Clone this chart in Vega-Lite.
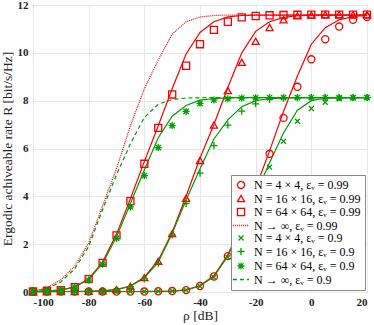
{
"$schema": "https://vega.github.io/schema/vega-lite/v6.json",
"width": 334, "height": 287,
"autosize": {"type": "none"},
"padding": {"left": 33, "top": 5, "right": 7, "bottom": 33},
"config": {"view": {"stroke": "#555", "strokeWidth": 1}, "font": "Liberation Serif"},
"datasets": {
"pts": [
{"x":-100,"y":0.02,"s":"A"},{"x":-95,"y":0.02,"s":"A"},{"x":-90,"y":0.02,"s":"A"},{"x":-85,"y":0.02,"s":"A"},{"x":-80,"y":0.02,"s":"A"},{"x":-75,"y":0.02,"s":"A"},{"x":-70,"y":0.02,"s":"A"},{"x":-65,"y":0.02,"s":"A"},{"x":-60,"y":0.02,"s":"A"},{"x":-55,"y":0.03,"s":"A"},{"x":-50,"y":0.04,"s":"A"},{"x":-45,"y":0.08,"s":"A"},{"x":-40,"y":0.25,"s":"A"},{"x":-35,"y":0.65,"s":"A"},{"x":-30,"y":1.5,"s":"A"},{"x":-25,"y":2.75,"s":"A"},{"x":-20,"y":4.25,"s":"A"},{"x":-15,"y":5.78,"s":"A"},{"x":-10,"y":7.28,"s":"A"},{"x":-5,"y":8.58,"s":"A"},{"x":0,"y":9.73,"s":"A"},{"x":5,"y":10.57,"s":"A"},{"x":10,"y":11.1,"s":"A"},{"x":15,"y":11.38,"s":"A"},{"x":20,"y":11.5,"s":"A"},
{"x":-100,"y":0.01,"s":"B"},{"x":-95,"y":0.01,"s":"B"},{"x":-90,"y":0.02,"s":"B"},{"x":-85,"y":0.02,"s":"B"},{"x":-80,"y":0.03,"s":"B"},{"x":-75,"y":0.05,"s":"B"},{"x":-70,"y":0.1,"s":"B"},{"x":-65,"y":0.24,"s":"B"},{"x":-60,"y":0.6,"s":"B"},{"x":-55,"y":1.28,"s":"B"},{"x":-50,"y":2.44,"s":"B"},{"x":-45,"y":3.92,"s":"B"},{"x":-40,"y":5.5,"s":"B"},{"x":-35,"y":6.98,"s":"B"},{"x":-30,"y":8.42,"s":"B"},{"x":-25,"y":9.6,"s":"B"},{"x":-20,"y":10.48,"s":"B"},{"x":-15,"y":11.06,"s":"B"},{"x":-10,"y":11.38,"s":"B"},{"x":-5,"y":11.55,"s":"B"},{"x":0,"y":11.58,"s":"B"},{"x":5,"y":11.6,"s":"B"},{"x":10,"y":11.6,"s":"B"},{"x":15,"y":11.6,"s":"B"},{"x":20,"y":11.6,"s":"B"},
{"x":-100,"y":0.02,"s":"C"},{"x":-95,"y":0.05,"s":"C"},{"x":-90,"y":0.08,"s":"C"},{"x":-85,"y":0.2,"s":"C"},{"x":-80,"y":0.54,"s":"C"},{"x":-75,"y":1.22,"s":"C"},{"x":-70,"y":2.37,"s":"C"},{"x":-65,"y":3.8,"s":"C"},{"x":-60,"y":5.36,"s":"C"},{"x":-55,"y":6.86,"s":"C"},{"x":-50,"y":8.26,"s":"C"},{"x":-45,"y":9.46,"s":"C"},{"x":-40,"y":10.36,"s":"C"},{"x":-35,"y":10.96,"s":"C"},{"x":-30,"y":11.3,"s":"C"},{"x":-25,"y":11.48,"s":"C"},{"x":-20,"y":11.54,"s":"C"},{"x":-15,"y":11.57,"s":"C"},{"x":-10,"y":11.58,"s":"C"},{"x":-5,"y":11.59,"s":"C"},{"x":0,"y":11.6,"s":"C"},{"x":5,"y":11.6,"s":"C"},{"x":10,"y":11.6,"s":"C"},{"x":15,"y":11.6,"s":"C"},{"x":20,"y":11.6,"s":"C"},
{"x":-100,"y":0.02,"s":"E"},{"x":-95,"y":0.02,"s":"E"},{"x":-90,"y":0.02,"s":"E"},{"x":-85,"y":0.02,"s":"E"},{"x":-80,"y":0.02,"s":"E"},{"x":-75,"y":0.02,"s":"E"},{"x":-70,"y":0.02,"s":"E"},{"x":-65,"y":0.02,"s":"E"},{"x":-60,"y":0.02,"s":"E"},{"x":-55,"y":0.03,"s":"E"},{"x":-50,"y":0.04,"s":"E"},{"x":-45,"y":0.08,"s":"E"},{"x":-40,"y":0.24,"s":"E"},{"x":-35,"y":0.62,"s":"E"},{"x":-30,"y":1.45,"s":"E"},{"x":-25,"y":2.6,"s":"E"},{"x":-20,"y":3.9,"s":"E"},{"x":-15,"y":5.22,"s":"E"},{"x":-10,"y":6.3,"s":"E"},{"x":-5,"y":7.14,"s":"E"},{"x":0,"y":7.67,"s":"E"},{"x":5,"y":7.93,"s":"E"},{"x":10,"y":8.08,"s":"E"},{"x":15,"y":8.12,"s":"E"},{"x":20,"y":8.13,"s":"E"},
{"x":-100,"y":0.01,"s":"F"},{"x":-95,"y":0.01,"s":"F"},{"x":-90,"y":0.02,"s":"F"},{"x":-85,"y":0.02,"s":"F"},{"x":-80,"y":0.03,"s":"F"},{"x":-75,"y":0.05,"s":"F"},{"x":-70,"y":0.09,"s":"F"},{"x":-65,"y":0.22,"s":"F"},{"x":-60,"y":0.55,"s":"F"},{"x":-55,"y":1.2,"s":"F"},{"x":-50,"y":2.38,"s":"F"},{"x":-45,"y":3.7,"s":"F"},{"x":-40,"y":4.97,"s":"F"},{"x":-35,"y":6.12,"s":"F"},{"x":-30,"y":6.98,"s":"F"},{"x":-25,"y":7.56,"s":"F"},{"x":-20,"y":7.87,"s":"F"},{"x":-15,"y":8.05,"s":"F"},{"x":-10,"y":8.1,"s":"F"},{"x":-5,"y":8.12,"s":"F"},{"x":0,"y":8.13,"s":"F"},{"x":5,"y":8.13,"s":"F"},{"x":10,"y":8.13,"s":"F"},{"x":15,"y":8.13,"s":"F"},{"x":20,"y":8.13,"s":"F"},
{"x":-100,"y":0.02,"s":"G"},{"x":-95,"y":0.05,"s":"G"},{"x":-90,"y":0.08,"s":"G"},{"x":-85,"y":0.2,"s":"G"},{"x":-80,"y":0.5,"s":"G"},{"x":-75,"y":1.16,"s":"G"},{"x":-70,"y":2.24,"s":"G"},{"x":-65,"y":3.56,"s":"G"},{"x":-60,"y":4.87,"s":"G"},{"x":-55,"y":6.04,"s":"G"},{"x":-50,"y":6.96,"s":"G"},{"x":-45,"y":7.55,"s":"G"},{"x":-40,"y":7.89,"s":"G"},{"x":-35,"y":8.03,"s":"G"},{"x":-30,"y":8.08,"s":"G"},{"x":-25,"y":8.11,"s":"G"},{"x":-20,"y":8.12,"s":"G"},{"x":-15,"y":8.13,"s":"G"},{"x":-10,"y":8.13,"s":"G"},{"x":-5,"y":8.13,"s":"G"},{"x":0,"y":8.13,"s":"G"},{"x":5,"y":8.13,"s":"G"},{"x":10,"y":8.13,"s":"G"},{"x":15,"y":8.13,"s":"G"},{"x":20,"y":8.13,"s":"G"}
],
"crv": [
{"x":-100,"y":0.02,"s":"A"},{"x":-95,"y":0.02,"s":"A"},{"x":-90,"y":0.02,"s":"A"},{"x":-85,"y":0.02,"s":"A"},{"x":-80,"y":0.02,"s":"A"},{"x":-75,"y":0.02,"s":"A"},{"x":-70,"y":0.02,"s":"A"},{"x":-65,"y":0.02,"s":"A"},{"x":-60,"y":0.02,"s":"A"},{"x":-55,"y":0.03,"s":"A"},{"x":-50,"y":0.04,"s":"A"},{"x":-45,"y":0.09,"s":"A"},{"x":-40,"y":0.27,"s":"A"},{"x":-35,"y":0.68,"s":"A"},{"x":-30,"y":1.55,"s":"A"},{"x":-25,"y":2.85,"s":"A"},{"x":-20,"y":4.35,"s":"A"},{"x":-15,"y":5.9,"s":"A"},{"x":-10,"y":7.55,"s":"A"},{"x":-5,"y":9.03,"s":"A"},{"x":0,"y":10.36,"s":"A"},{"x":5,"y":11.05,"s":"A"},{"x":10,"y":11.38,"s":"A"},{"x":15,"y":11.52,"s":"A"},{"x":20,"y":11.57,"s":"A"},
{"x":-100,"y":0.01,"s":"B"},{"x":-95,"y":0.01,"s":"B"},{"x":-90,"y":0.02,"s":"B"},{"x":-85,"y":0.02,"s":"B"},{"x":-80,"y":0.03,"s":"B"},{"x":-75,"y":0.05,"s":"B"},{"x":-70,"y":0.1,"s":"B"},{"x":-65,"y":0.25,"s":"B"},{"x":-60,"y":0.62,"s":"B"},{"x":-55,"y":1.32,"s":"B"},{"x":-50,"y":2.5,"s":"B"},{"x":-45,"y":4.0,"s":"B"},{"x":-40,"y":5.6,"s":"B"},{"x":-35,"y":7.0,"s":"B"},{"x":-30,"y":8.55,"s":"B"},{"x":-25,"y":10.0,"s":"B"},{"x":-20,"y":10.9,"s":"B"},{"x":-15,"y":11.3,"s":"B"},{"x":-10,"y":11.48,"s":"B"},{"x":-5,"y":11.55,"s":"B"},{"x":0,"y":11.58,"s":"B"},{"x":5,"y":11.58,"s":"B"},{"x":10,"y":11.58,"s":"B"},{"x":15,"y":11.58,"s":"B"},{"x":20,"y":11.58,"s":"B"},
{"x":-100,"y":0.02,"s":"C"},{"x":-95,"y":0.05,"s":"C"},{"x":-90,"y":0.08,"s":"C"},{"x":-85,"y":0.22,"s":"C"},{"x":-80,"y":0.55,"s":"C"},{"x":-75,"y":1.25,"s":"C"},{"x":-70,"y":2.42,"s":"C"},{"x":-65,"y":3.9,"s":"C"},{"x":-60,"y":5.45,"s":"C"},{"x":-55,"y":6.95,"s":"C"},{"x":-50,"y":8.5,"s":"C"},{"x":-45,"y":9.95,"s":"C"},{"x":-40,"y":10.85,"s":"C"},{"x":-35,"y":11.3,"s":"C"},{"x":-30,"y":11.5,"s":"C"},{"x":-25,"y":11.56,"s":"C"},{"x":-20,"y":11.58,"s":"C"},{"x":-15,"y":11.58,"s":"C"},{"x":-10,"y":11.58,"s":"C"},{"x":-5,"y":11.58,"s":"C"},{"x":0,"y":11.58,"s":"C"},{"x":5,"y":11.58,"s":"C"},{"x":10,"y":11.58,"s":"C"},{"x":15,"y":11.58,"s":"C"},{"x":20,"y":11.58,"s":"C"},
{"x":-100,"y":0.02,"s":"E"},{"x":-95,"y":0.02,"s":"E"},{"x":-90,"y":0.02,"s":"E"},{"x":-85,"y":0.02,"s":"E"},{"x":-80,"y":0.02,"s":"E"},{"x":-75,"y":0.02,"s":"E"},{"x":-70,"y":0.02,"s":"E"},{"x":-65,"y":0.02,"s":"E"},{"x":-60,"y":0.02,"s":"E"},{"x":-55,"y":0.03,"s":"E"},{"x":-50,"y":0.04,"s":"E"},{"x":-45,"y":0.08,"s":"E"},{"x":-40,"y":0.25,"s":"E"},{"x":-35,"y":0.65,"s":"E"},{"x":-30,"y":1.5,"s":"E"},{"x":-25,"y":2.75,"s":"E"},{"x":-20,"y":4.1,"s":"E"},{"x":-15,"y":5.4,"s":"E"},{"x":-10,"y":6.65,"s":"E"},{"x":-5,"y":7.6,"s":"E"},{"x":0,"y":8.0,"s":"E"},{"x":5,"y":8.1,"s":"E"},{"x":10,"y":8.12,"s":"E"},{"x":15,"y":8.13,"s":"E"},{"x":20,"y":8.13,"s":"E"},
{"x":-100,"y":0.01,"s":"F"},{"x":-95,"y":0.01,"s":"F"},{"x":-90,"y":0.02,"s":"F"},{"x":-85,"y":0.02,"s":"F"},{"x":-80,"y":0.03,"s":"F"},{"x":-75,"y":0.05,"s":"F"},{"x":-70,"y":0.1,"s":"F"},{"x":-65,"y":0.24,"s":"F"},{"x":-60,"y":0.58,"s":"F"},{"x":-55,"y":1.25,"s":"F"},{"x":-50,"y":2.45,"s":"F"},{"x":-45,"y":3.85,"s":"F"},{"x":-40,"y":5.15,"s":"F"},{"x":-35,"y":6.4,"s":"F"},{"x":-30,"y":7.2,"s":"F"},{"x":-25,"y":7.75,"s":"F"},{"x":-20,"y":8.0,"s":"F"},{"x":-15,"y":8.08,"s":"F"},{"x":-10,"y":8.12,"s":"F"},{"x":-5,"y":8.13,"s":"F"},{"x":0,"y":8.13,"s":"F"},{"x":5,"y":8.13,"s":"F"},{"x":10,"y":8.13,"s":"F"},{"x":15,"y":8.13,"s":"F"},{"x":20,"y":8.13,"s":"F"},
{"x":-100,"y":0.02,"s":"G"},{"x":-95,"y":0.05,"s":"G"},{"x":-90,"y":0.08,"s":"G"},{"x":-85,"y":0.21,"s":"G"},{"x":-80,"y":0.52,"s":"G"},{"x":-75,"y":1.2,"s":"G"},{"x":-70,"y":2.3,"s":"G"},{"x":-65,"y":3.7,"s":"G"},{"x":-60,"y":5.1,"s":"G"},{"x":-55,"y":6.45,"s":"G"},{"x":-50,"y":7.35,"s":"G"},{"x":-45,"y":7.8,"s":"G"},{"x":-40,"y":8.02,"s":"G"},{"x":-35,"y":8.09,"s":"G"},{"x":-30,"y":8.12,"s":"G"},{"x":-25,"y":8.13,"s":"G"},{"x":-20,"y":8.13,"s":"G"},{"x":-15,"y":8.13,"s":"G"},{"x":-10,"y":8.13,"s":"G"},{"x":-5,"y":8.13,"s":"G"},{"x":0,"y":8.13,"s":"G"},{"x":5,"y":8.13,"s":"G"},{"x":10,"y":8.13,"s":"G"},{"x":15,"y":8.13,"s":"G"},{"x":20,"y":8.13,"s":"G"}
],
"inf": [
{"x":-100,"y":0.03,"s":"D"},{"x":-95,"y":0.18,"s":"D"},{"x":-90,"y":0.5,"s":"D"},{"x":-85,"y":1.08,"s":"D"},{"x":-80,"y":2.05,"s":"D"},{"x":-75,"y":3.6,"s":"D"},{"x":-70,"y":5.15,"s":"D"},{"x":-65,"y":6.95,"s":"D"},{"x":-60,"y":8.5,"s":"D"},{"x":-55,"y":9.7,"s":"D"},{"x":-50,"y":10.78,"s":"D"},{"x":-45,"y":11.3,"s":"D"},{"x":-40,"y":11.5,"s":"D"},{"x":-35,"y":11.56,"s":"D"},{"x":-30,"y":11.58,"s":"D"},{"x":-25,"y":11.58,"s":"D"},{"x":-20,"y":11.58,"s":"D"},{"x":-15,"y":11.58,"s":"D"},{"x":-10,"y":11.58,"s":"D"},{"x":-5,"y":11.58,"s":"D"},{"x":0,"y":11.58,"s":"D"},{"x":5,"y":11.58,"s":"D"},{"x":10,"y":11.58,"s":"D"},{"x":15,"y":11.58,"s":"D"},{"x":20,"y":11.58,"s":"D"},
{"x":-100,"y":0.02,"s":"H"},{"x":-95,"y":0.14,"s":"H"},{"x":-90,"y":0.42,"s":"H"},{"x":-85,"y":0.97,"s":"H"},{"x":-80,"y":1.9,"s":"H"},{"x":-75,"y":3.45,"s":"H"},{"x":-70,"y":4.9,"s":"H"},{"x":-65,"y":6.2,"s":"H"},{"x":-60,"y":7.3,"s":"H"},{"x":-55,"y":7.85,"s":"H"},{"x":-50,"y":8.05,"s":"H"},{"x":-45,"y":8.11,"s":"H"},{"x":-40,"y":8.12,"s":"H"},{"x":-35,"y":8.13,"s":"H"},{"x":-30,"y":8.13,"s":"H"},{"x":-25,"y":8.13,"s":"H"},{"x":-20,"y":8.13,"s":"H"},{"x":-15,"y":8.13,"s":"H"},{"x":-10,"y":8.13,"s":"H"},{"x":-5,"y":8.13,"s":"H"},{"x":0,"y":8.13,"s":"H"},{"x":5,"y":8.13,"s":"H"},{"x":10,"y":8.13,"s":"H"},{"x":15,"y":8.13,"s":"H"},{"x":20,"y":8.13,"s":"H"}
]
},
"encoding": {
"x": {"field": "x", "type": "quantitative", "scale": {"domain": [-100, 20], "nice": false, "zero": false},
 "axis": {"title": "ρ [dB]", "values": [-100, -80, -60, -40, -20, 0, 20], "labelExpr": "'' + datum.value", "labelFont": "Liberation Serif", "labelFontWeight": "bold", "labelFontSize": 11, "labelColor": "#222", "labelPadding": 4, "titleFont": "Liberation Serif", "titleFontWeight": "normal", "titleFontSize": 13.5, "titleColor": "#222", "titlePadding": 1, "grid": true, "gridColor": "#e8e8e8", "domain": false, "ticks": false}},
"y": {"field": "y", "type": "quantitative", "scale": {"domain": [0, 12], "nice": false},
 "axis": {"title": "Ergodic achiveable rate R [bit/s/Hz]", "values": [0, 2, 4, 6, 8, 10, 12], "labelFont": "Liberation Serif", "labelFontWeight": "bold", "labelFontSize": 11, "labelColor": "#222", "labelPadding": 5, "titleFont": "Liberation Serif", "titleFontWeight": "normal", "titleFontSize": 13.5, "titleColor": "#222", "titlePadding": 3, "grid": true, "gridColor": "#e8e8e8", "domain": false, "ticks": false}}
},
"layer": [
{"data": {"name": "crv"}, "mark": {"type": "line", "strokeWidth": 1.2},
 "encoding": {"color": {"field": "s", "type": "nominal", "scale": {"domain": ["A","B","C","D","E","F","G","H"], "range": ["#ff0000","#ff0000","#ff0000","#ff0000","#009e00","#009e00","#009e00","#009e00"]},
   "legend": {"title": null, "orient": "bottom-right", "offset": 2, "padding": 4, "fillColor": "white", "strokeColor": "#888", "symbolStrokeWidth": 1.3, "symbolSize": 50, "rowPadding": 0.5, "labelFont": "Liberation Serif", "labelFontSize": 12, "labelColor": "black", "labelOffset": 7, "labelLimit": 200,
    "labelExpr": "datum.label == 'A' ? 'N = 4 × 4, εᵥ = 0.99' : datum.label == 'B' ? 'N = 16 × 16, εᵥ = 0.99' : datum.label == 'C' ? 'N = 64 × 64, εᵥ = 0.99' : datum.label == 'D' ? 'N → ∞, εᵥ = 0.99' : datum.label == 'E' ? 'N = 4 × 4, εᵥ = 0.9' : datum.label == 'F' ? 'N = 16 × 16, εᵥ = 0.9' : datum.label == 'G' ? 'N = 64 × 64, εᵥ = 0.9' : 'N → ∞, εᵥ = 0.9'"}},
  "detail": {"field": "s"}}},
{"data": {"name": "inf"}, "mark": {"type": "line", "strokeWidth": 1.2},
 "encoding": {"color": {"field": "s", "type": "nominal"},
  "strokeDash": {"field": "s", "type": "nominal", "scale": {"domain": ["A","B","C","D","E","F","G","H"], "range": [[1,0],[1,0],[1,0],[1,1],[1,0],[1,0],[1,0],[4,3]]}}}},
{"data": {"name": "pts"}, "mark": {"type": "point", "filled": false, "size": 50, "strokeWidth": 1.3, "opacity": 1},
 "encoding": {"color": {"field": "s", "type": "nominal"},
  "shape": {"field": "s", "type": "nominal", "scale": {"domain": ["A","B","C","D","E","F","G","H"], "range": ["circle","triangle-up","square","M-2.3,0H2.3","M-0.7,-0.7L0.7,0.7M-0.7,0.7L0.7,-0.7","M-1,0H1M0,-1V1","M-1,0H1M0,-1V1M-0.75,-0.75L0.75,0.75M-0.75,0.75L0.75,-0.75","M-2.3,0H2.3"]}}}}
]
}
